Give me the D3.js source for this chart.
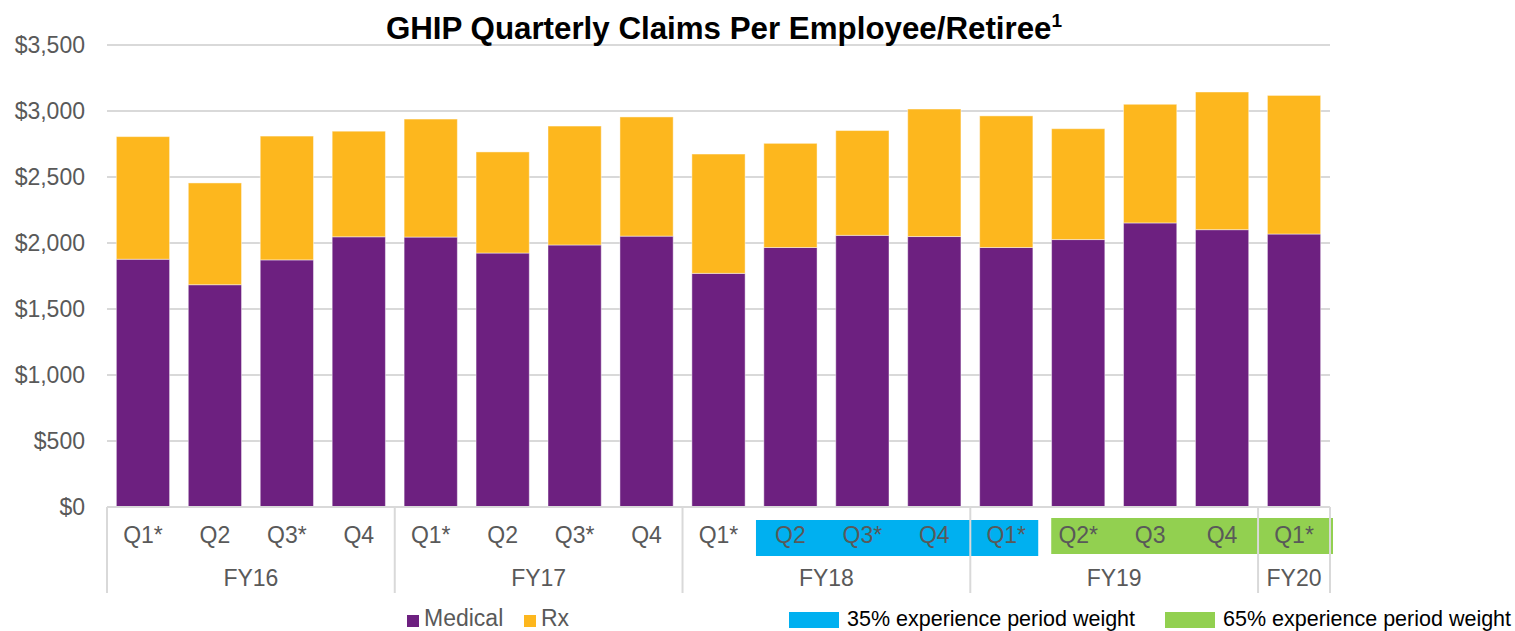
<!DOCTYPE html>
<html>
<head>
<meta charset="utf-8">
<script src="https://cdn.jsdelivr.net/npm/d3@7"></script>
<style>
  body { margin: 0; background: #fff; }
  text { font-family: "Liberation Sans", Arial, sans-serif; }
</style>
</head>
<body>
<div id="chart"></div>
<script>
// data
const years = ["FY16", "FY17", "FY18", "FY19", "FY20"];
const quarters = ["Q1*", "Q2", "Q3*", "Q4", "Q1*", "Q2", "Q3*", "Q4", "Q1*", "Q2", "Q3*", "Q4", "Q1*", "Q2*", "Q3", "Q4", "Q1*"];
const quarterYear = ["FY16", "FY16", "FY16", "FY16", "FY17", "FY17", "FY17", "FY17", "FY18", "FY18", "FY18", "FY18", "FY19", "FY19", "FY19", "FY19", "FY20"];
const medical = [1877, 1684, 1872, 2047, 2045, 1924, 1985, 2052, 1770, 1966, 2058, 2049, 1966, 2026, 2152, 2101, 2068];
const totals = [2806, 2455, 2810, 2847, 2939, 2690, 2886, 2955, 2674, 2755, 2852, 3015, 2963, 2866, 3051, 3144, 3118];
const rx = totals.map((t, i) => t - medical[i]);
const yTicks = [0, 500, 1000, 1500, 2000, 2500, 3000, 3500];
const weightBands = [
  { label: "35% experience period weight", from: 9, to: 12, color: "#00B0F0" },
  { label: "65% experience period weight", from: 13, to: 16, color: "#92D050" }
];

const width = 1515, height = 631;
const plotLeft = 107, plotRight = 1330, plotTop = 45, plotBottom = 507;

const svg = d3.select("#chart").append("svg")
    .attr("width", width)
    .attr("height", height);

const ids = quarters.map((q, i) => i);

const x = d3.scaleBand()
    .domain(ids)
    .range([plotLeft, plotRight])
    .paddingInner(0.26)
    .paddingOuter(0.13);

const y = d3.scaleLinear()
    .domain([0, 3500])
    .range([plotBottom, plotTop]);

// gridlines
svg.append("g")
    .selectAll("line")
    .data(yTicks.slice(1))
    .enter()
    .append("line")
    .attr("x1", plotLeft).attr("x2", plotRight)
    .attr("y1", d => y(d)).attr("y2", d => y(d))
    .attr("stroke", "#d9d9d9")
    .attr("stroke-width", 2);

// y axis labels
svg.append("g")
    .selectAll("text")
    .data(yTicks)
    .enter()
    .append("text")
    .attr("x", 85)
    .attr("y", d => y(d) + 8)
    .attr("text-anchor", "end")
    .attr("fill", "#595959")
    .style("font-size", "23px")
    .text(d => d3.format("$,")(d));

// title
const title = svg.append("text")
    .attr("x", 724)
    .attr("y", 39)
    .attr("text-anchor", "middle")
    .attr("fill", "#000")
    .style("font-size", "31.3px")
    .style("font-weight", "bold");
title.append("tspan").text("GHIP Quarterly Claims Per Employee/Retiree");
title.append("tspan")
    .attr("dy", -12)
    .style("font-size", "19px")
    .text("1");

// stacked bars
const stackData = ids.map(i => ({ id: i, Medical: medical[i], Rx: rx[i] }));
const series = d3.stack().keys(["Medical", "Rx"])(stackData);
const color = d3.scaleOrdinal()
    .domain(["Medical", "Rx"])
    .range(["#6D2080", "#FDB71E"]);

svg.append("g")
    .selectAll("g")
    .data(series)
    .enter()
    .append("g")
    .attr("fill", d => color(d.key))
    .selectAll("rect")
    .data(d => d)
    .enter()
    .append("rect")
    .attr("x", d => x(d.data.id))
    .attr("y", d => y(d[1]))
    .attr("width", x.bandwidth())
    .attr("height", d => y(d[0]) - y(d[1]))
    .attr("stroke", "#fff")
    .attr("stroke-opacity", 0.45)
    .attr("stroke-width", 1);

// highlight bands behind quarter labels
const step = x.step();
const gap = step - x.bandwidth();
svg.append("g")
    .selectAll("rect")
    .data(weightBands)
    .enter()
    .append("rect")
    .attr("x", (d, i) => x(d.from) - gap / 2 + (i === 0 ? 1.5 : 9))
    .attr("y", (d, i) => i === 0 ? 520 : 518)
    .attr("width", (d, i) => x(d.to) + x.bandwidth() + gap / 2 - (x(d.from) - gap / 2) - (i === 0 ? 5.5 : 6))
    .attr("height", 36)
    .attr("fill", d => d.color);

// axis line + year separators
const axis = svg.append("g").attr("stroke", "#d9d9d9").attr("stroke-width", 2);
axis.append("line")
    .attr("x1", plotLeft).attr("x2", plotRight)
    .attr("y1", plotBottom).attr("y2", plotBottom);

const yearSpans = years.map(yr => {
    const idx = quarterYear.map((q, i) => q === yr ? i : -1).filter(i => i >= 0);
    const x0 = x(idx[0]) - gap / 2;
    const x1 = x(idx[idx.length - 1]) + x.bandwidth() + gap / 2;
    return { yr, x0, x1 };
});

const seps = [yearSpans[0].x0].concat(yearSpans.map(s => s.x1));
axis.selectAll("line.sep")
    .data(seps)
    .enter()
    .append("line")
    .attr("class", "sep")
    .attr("x1", d => d).attr("x2", d => d)
    .attr("y1", plotBottom).attr("y2", 593);

// quarter labels
svg.append("g")
    .selectAll("text")
    .data(ids)
    .enter()
    .append("text")
    .attr("x", d => x(d) + x.bandwidth() / 2)
    .attr("y", 543)
    .attr("text-anchor", "middle")
    .attr("fill", "#595959")
    .style("font-size", "23px")
    .text(d => quarters[d]);

// year labels
svg.append("g")
    .selectAll("text")
    .data(yearSpans)
    .enter()
    .append("text")
    .attr("x", d => (d.x0 + d.x1) / 2)
    .attr("y", 586)
    .attr("text-anchor", "middle")
    .attr("fill", "#595959")
    .style("font-size", "23px")
    .text(d => d.yr);

// legend: series
const legend = svg.append("g");
const seriesLegend = [
    { key: "Medical", x: 407 },
    { key: "Rx", x: 524 }
];
legend.selectAll("rect.s")
    .data(seriesLegend)
    .enter()
    .append("rect")
    .attr("class", "s")
    .attr("x", d => d.x)
    .attr("y", 615)
    .attr("width", 12)
    .attr("height", 12)
    .attr("fill", d => color(d.key));
legend.selectAll("text.s")
    .data(seriesLegend)
    .enter()
    .append("text")
    .attr("class", "s")
    .attr("x", d => d.x + 17)
    .attr("y", 626)
    .attr("fill", "#595959")
    .style("font-size", "23px")
    .text(d => d.key);

// legend: weight bands
const bandLegend = [789, 1165];
legend.selectAll("rect.w")
    .data(weightBands)
    .enter()
    .append("rect")
    .attr("class", "w")
    .attr("x", (d, i) => bandLegend[i])
    .attr("y", 612)
    .attr("width", 50)
    .attr("height", 16)
    .attr("fill", d => d.color);
legend.selectAll("text.w")
    .data(weightBands)
    .enter()
    .append("text")
    .attr("class", "w")
    .attr("x", (d, i) => bandLegend[i] + 58)
    .attr("y", 626)
    .attr("fill", "#000")
    .style("font-size", "21.5px")
    .text(d => d.label);
</script>
</body>
</html>
